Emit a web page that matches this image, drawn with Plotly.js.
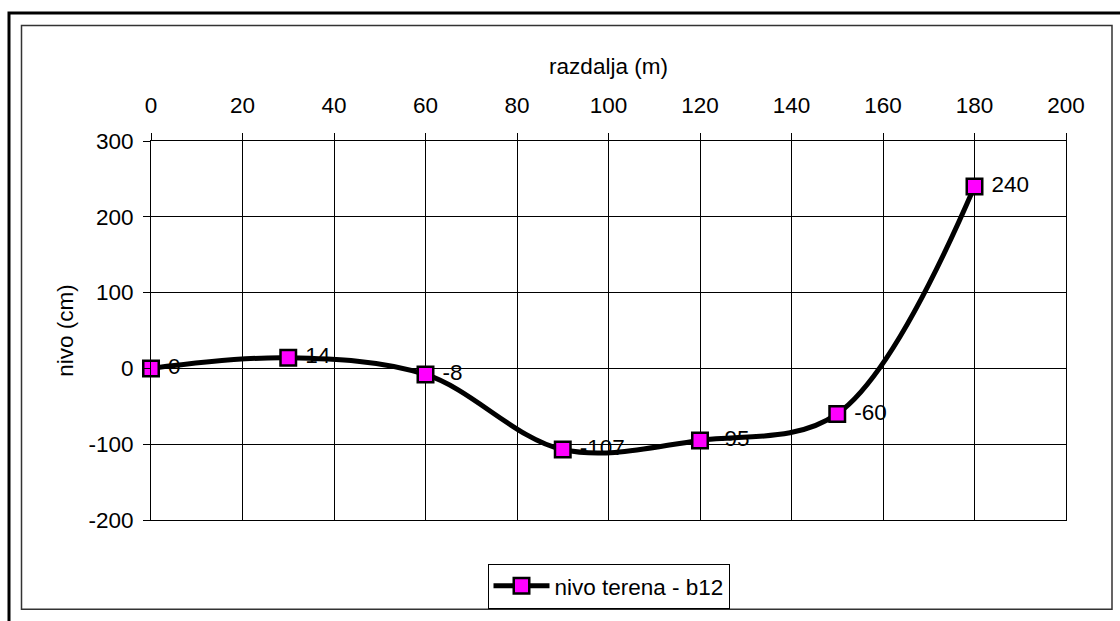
<!DOCTYPE html>
<html>
<head>
<meta charset="utf-8">
<script src="https://cdn.plot.ly/plotly-3.0.1.min.js"></script>
<style>
  html, body { margin: 0; padding: 0; background: #fff; }
  #chart { width: 1120px; height: 621px; }
</style>
</head>
<body>
<div id="chart"></div>
<script>
// Terrain level profile along the distance (m)
const distance = [0, 30, 60, 90, 120, 150, 180];
const level = [0, 14, -8, -107, -95, -60, 240];
const seriesName = 'nivo terena - b12';
const xTitle = 'razdalja (m)';
const yTitle = 'nivo (cm)';
const xTicks = [0, 20, 40, 60, 80, 100, 120, 140, 160, 180, 200];
const yTicks = [-200, -100, 0, 100, 200, 300];

const plotLeft = 151, plotRight = 1066, plotTop = 141, plotBottom = 523;
const pw = plotRight - plotLeft, ph = plotBottom - plotTop;
const px = v => (v - plotLeft) / pw;
const py = v => (plotBottom - v) / ph;

const font = { family: 'Arial, "Liberation Sans", sans-serif', size: 22.5, color: '#000' };

const trace = {
  x: distance,
  y: level,
  name: seriesName,
  type: 'scatter',
  mode: 'lines+markers+text',
  line: { color: '#000', width: 5, shape: 'spline', smoothing: 1 },
  marker: { symbol: 'square', size: 15.5, color: '#ff00ff', line: { color: '#000', width: 2.5 } },
  text: level.map(String),
  texttemplate: '\u00a0%{text}',
  textposition: 'middle right',
  textfont: font,
  cliponaxis: false
};

const layout = {
  width: 1120,
  height: 621,
  margin: { l: plotLeft, r: 1120 - plotRight, t: plotTop, b: 621 - plotBottom },
  paper_bgcolor: '#fff',
  plot_bgcolor: '#fff',
  font: font,
  showlegend: true,
  legend: {
    x: 0.5, xanchor: 'center',
    y: py(567), yanchor: 'top',
    orientation: 'h',
    bordercolor: '#000', borderwidth: 1,
    itemwidth: 56,
    font: font,
    bgcolor: '#fff'
  },
  xaxis: {
    side: 'top',
    range: [0, 200],
    tickvals: xTicks,
    ticktext: xTicks.map(String),
    ticks: 'outside', ticklen: 7, tickcolor: '#000', tickwidth: 1,
    ticklabelstandoff: 11,
    showgrid: true, gridcolor: '#000', gridwidth: 1,
    zeroline: false,
    showline: true, linecolor: '#000', linewidth: 1, mirror: true,
    tickfont: font,
    title: { text: xTitle, font: font, standoff: 12 }
  },
  yaxis: {
    range: [-200, 300],
    tickvals: yTicks,
    ticktext: yTicks.map(String),
    ticks: 'outside', ticklen: 7, tickcolor: '#000', tickwidth: 1,
    ticklabelstandoff: 5,
    showgrid: true, gridcolor: '#000', gridwidth: 1,
    zeroline: false,
    showline: true, linecolor: '#000', linewidth: 1, mirror: true,
    tickfont: font,
    title: { text: yTitle, font: font, standoff: 8 }
  },
  shapes: [
    { type: 'rect', xref: 'paper', yref: 'paper', layer: 'below',
      x0: px(9), x1: px(1130), y0: py(640), y1: py(12),
      line: { color: '#000', width: 3 } },
    { type: 'rect', xref: 'paper', yref: 'paper', layer: 'below',
      x0: px(21.5), x1: px(1112), y0: py(613), y1: py(24.5),
      line: { color: '#333', width: 1.5 } }
  ]
};

Plotly.newPlot('chart', [trace], layout, { displayModeBar: false, staticPlot: true });
</script>
</body>
</html>
